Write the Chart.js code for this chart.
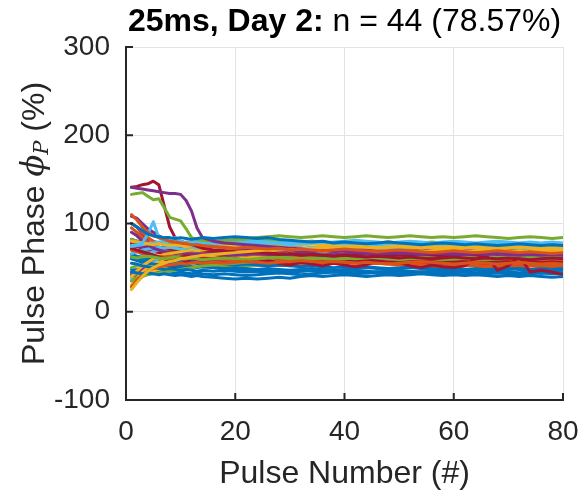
<!DOCTYPE html>
<html>
<head>
<meta charset="utf-8">
<script src="https://cdn.jsdelivr.net/npm/chart.js@4.4.0/dist/chart.umd.min.js"></script>
<style>
  html, body { margin: 0; padding: 0; background: #ffffff; }
  #wrap { width: 582px; height: 493px; }
</style>
</head>
<body>
<div id="wrap"><canvas id="chart" width="582" height="493"></canvas></div>
<script>
// Pulse index for every sample (dense at the start, every 2nd pulse afterwards)
const pulseNumbers = [1,2,3,4,5,6,7,8,9,10,11,12,13,14,16,18,20,22,24,26,28,30,32,34,36,38,40,42,44,46,48,50,52,54,56,58,60,62,64,66,68,70,72,74,76,78,80];

// Pulse phase (%) of each of the 44 recorded cells
const trace01 = [100,96,92,88,86,85,84,84,83,84,83,82,83,84, 83,84,85,84,83,84,82,81,80,79,80,78,79,78,77,78,79,78,77,76,77,78,77,76,77,76,75,76,77,76,75,76,75];
const trace02 = [110,104,96,90,86,84,82,80,79,78,77,76,76,75, 74,73,72,73,72,71,72,70,71,70,69,70,71,70,69,68,69,70,69,68,67,68,69,68,67,68,69,68,67,68,67,66,67];
const trace03 = [25,33,40,46,50,53,55,57,58,60,61,62,63,64, 65,66,67,68,69,70,71,70,71,72,73,72,73,74,73,72,73,74,73,72,73,72,71,72,73,72,71,72,73,72,71,72,71];
const trace04 = [141,140,139,138,137,136,135,134,134,133,126,114,95,84, 80,78,77,76,75,74,73,72,72,71,70,71,70,69,70,69,68,67,68,67,66,67,66,65,66,65,66,65,64,65,64,65,64];
const trace05 = [133,134,135,131,127,128,118,107,105,103,94,84,82,81, 80,81,82,83,84,85,86,85,84,85,86,85,84,85,86,85,84,85,86,85,84,85,84,85,86,85,84,83,84,85,84,83,84];
const trace06 = [75,76,78,88,102,84,80,82,84,80,78,77,78,77, 77,78,77,76,77,78,77,76,77,78,79,78,77,78,77,76,77,78,77,76,77,78,77,76,77,78,77,76,77,76,77,76,75];
const trace07 = [141,142,144,145,148,144,120,96,84,80,78,76,74,72, 70,69,68,67,68,66,65,66,64,65,64,63,64,63,62,63,62,61,62,61,60,61,62,61,60,61,60,61,60,59,60,61,60];
const trace08 = [45,44,43,44,43,42,43,42,41,42,41,40,41,40, 39,38,37,38,37,38,39,38,40,41,40,41,42,41,40,41,42,41,42,43,42,41,42,41,42,41,40,41,40,41,40,39,40];
const trace09 = [28,36,42,46,49,51,52,53,54,55,54,55,56,55, 56,55,56,57,56,55,56,57,58,57,56,57,56,55,56,55,54,55,56,57,56,55,54,55,56,55,54,55,56,55,54,55,54];
const trace10 = [80,79,78,77,76,77,76,75,76,75,74,75,76,75, 76,75,74,75,76,75,74,75,76,77,76,75,76,75,74,75,76,75,74,75,74,73,74,75,74,73,74,75,74,73,74,73,74];
const trace11 = [108,106,100,94,90,86,83,80,78,77,76,75,76,75, 74,73,72,71,72,71,70,69,70,69,70,68,69,68,67,68,67,66,67,66,67,66,65,66,67,66,65,66,65,66,65,66,65];
const trace12 = [62,61,62,63,62,61,60,61,62,61,60,61,60,59, 60,61,60,59,60,61,62,61,60,61,60,59,60,61,62,61,60,59,60,61,60,59,60,61,60,59,60,61,62,61,60,61,60];
const trace13 = [74,75,76,77,78,79,78,79,80,79,78,79,80,79, 80,79,78,79,80,79,78,79,80,79,78,79,80,81,80,79,78,79,80,79,78,79,80,79,78,79,80,79,78,79,78,79,78];
const trace14 = [72,70,68,66,64,62,60,58,60,62,63,62,61,60, 60,62,60,58,56,58,55,53,56,54,52,55,53,51,53,58,62,56,52,50,53,51,50,52,60,64,47,52,63,45,47,45,42];
const trace15 = [55,54,52,51,50,49,48,49,48,47,48,47,46,47, 46,47,46,45,46,47,46,45,46,47,48,47,46,47,46,45,46,47,46,45,46,47,46,45,44,45,46,45,44,45,44,45,44];
const trace16 = [70,68,66,65,64,63,62,63,62,61,62,61,60,61, 60,59,58,59,58,57,58,57,56,57,56,55,56,55,54,55,54,53,54,53,52,51,52,53,52,51,52,53,54,53,52,53,52];
const trace17 = [40,46,52,56,60,63,65,66,67,68,69,70,69,70, 71,70,69,70,71,70,69,70,71,70,69,68,69,70,69,68,69,70,69,68,69,70,69,68,69,70,69,68,69,68,69,68,69];
const trace18 = [90,86,80,76,72,70,68,67,66,67,66,65,66,65, 66,65,64,65,66,65,64,65,66,65,64,65,66,67,66,65,66,67,66,65,66,67,66,65,66,67,66,65,66,67,66,65,66];
const trace19 = [35,38,40,42,43,44,45,46,47,48,49,50,51,52, 53,54,55,56,57,58,59,60,59,60,61,60,61,60,61,62,61,60,61,62,61,60,61,62,61,62,63,62,61,62,63,62,63];
const trace20 = [66,68,70,71,72,73,72,73,72,71,72,73,72,73, 72,73,74,73,72,73,74,73,72,73,74,75,74,73,74,75,74,73,74,75,74,73,74,73,72,73,74,73,72,73,72,73,72];
const trace21 = [78,77,76,75,74,73,72,71,70,71,70,69,70,69, 68,67,68,67,66,67,66,65,66,65,64,65,64,65,64,63,64,65,64,63,64,63,62,63,64,63,62,63,64,63,62,63,62];
const trace22 = [60,58,56,55,54,53,52,53,52,51,52,51,50,51, 50,49,50,49,48,49,48,47,48,49,48,47,48,49,50,49,48,49,50,49,48,49,48,47,48,47,48,49,48,47,48,47,48];
const trace23 = [95,90,84,78,74,71,69,68,67,66,67,66,65,66, 65,64,65,66,65,64,65,64,63,64,63,62,63,62,63,62,61,62,61,60,61,60,61,60,59,60,61,60,59,60,59,60,59];
const trace24 = [30,38,45,50,54,56,58,59,60,61,60,61,62,61, 62,63,62,61,62,63,64,63,62,63,64,65,64,63,64,65,66,65,64,65,66,67,66,65,66,67,66,65,66,67,66,65,66];
const trace25 = [75,74,73,74,73,72,73,72,71,72,71,70,71,70, 71,70,69,70,69,68,69,70,69,68,69,68,67,68,69,68,67,68,69,70,69,68,69,70,69,68,69,70,69,68,69,68,69];
const trace26 = [82,80,79,78,77,78,77,76,77,76,75,76,77,76, 77,78,79,80,81,82,81,80,79,80,79,78,79,78,77,78,79,78,77,78,79,78,77,78,77,76,77,78,77,76,77,76,77];
const trace27 = [38,36,40,48,55,60,63,65,66,67,68,67,68,67, 68,69,68,67,68,69,70,69,68,69,70,71,70,69,70,71,70,69,70,71,70,69,70,71,70,69,70,71,70,69,70,69,70];
const trace28 = [70,69,68,66,64,60,56,51,50,53,57,60,62,63, 62,61,60,61,60,59,60,59,58,59,58,57,58,57,58,57,56,57,56,57,56,55,56,55,56,55,54,55,54,55,54,55,54];
const trace29 = [65,63,61,60,59,58,57,56,57,56,55,56,55,54, 55,54,53,54,53,52,53,52,51,52,51,50,51,50,51,50,49,50,51,50,49,50,49,48,49,50,49,48,49,48,49,48,49];
const trace30 = [35,40,44,48,52,55,57,58,59,60,59,60,61,60, 61,60,59,60,61,60,59,58,59,60,59,58,57,58,57,56,57,56,55,56,55,54,55,54,53,52,51,52,51,52,53,52,53];
const trace31 = [28,34,40,44,46,48,49,50,51,50,51,52,51,52, 53,54,55,56,57,58,57,58,59,60,61,62,63,64,65,66,67,68,69,70,71,72,71,72,71,72,71,72,73,72,73,72,73];
const trace32 = [42,45,48,50,52,54,55,56,57,58,57,58,59,58, 59,58,59,60,59,58,59,60,61,60,61,62,61,60,61,62,63,62,63,64,63,64,63,64,65,64,63,64,65,64,63,64,63];
const trace33 = [50,52,54,56,58,59,60,61,62,63,62,63,64,63, 64,63,64,65,64,63,64,65,66,65,64,65,66,65,64,65,66,65,64,63,62,61,62,61,60,61,62,61,60,61,62,61,62];
const trace34 = [60,62,64,66,68,70,72,73,74,75,76,75,76,77, 76,77,78,77,76,77,78,77,76,77,78,77,76,75,76,77,78,77,76,75,76,77,76,75,76,75,76,77,76,75,76,75,76];
const trace35 = [76,74,72,70,68,67,66,65,64,65,64,63,62,63, 62,63,64,63,62,61,62,61,60,61,60,59,60,59,58,59,58,57,58,57,58,57,56,57,58,57,56,57,58,57,56,57,56];
const trace36 = [48,47,46,47,46,45,46,45,44,45,44,43,44,43, 42,43,42,41,42,43,44,43,42,43,44,45,44,43,44,45,44,43,44,45,44,43,44,45,44,43,44,43,42,43,44,43,44];
const trace37 = [100,96,90,84,80,78,76,75,74,75,74,73,74,73, 72,73,72,71,72,73,72,71,72,71,70,71,72,71,70,71,70,69,70,71,70,69,70,69,68,69,70,69,68,69,68,69,68];
const trace38 = [72,74,75,76,77,78,77,78,79,78,79,80,79,80, 79,80,79,78,79,80,81,80,79,80,79,78,79,80,79,78,79,78,77,78,77,76,77,78,77,76,77,76,75,76,75,76,75];
const trace39 = [100,96,88,80,74,70,66,63,61,60,59,58,57,58, 57,56,57,56,55,56,57,56,57,58,59,60,61,62,63,64,63,64,65,66,65,64,65,66,65,64,65,66,65,64,65,64,65];
const trace40 = [40,42,44,46,47,48,49,50,51,50,51,52,51,52, 51,52,53,52,53,54,55,56,57,58,57,58,59,58,59,58,57,58,59,58,57,58,59,58,57,58,59,58,57,58,57,58,57];
const trace41 = [80,78,76,74,72,71,70,69,70,69,68,69,68,67, 68,67,66,67,66,65,66,65,64,65,66,67,68,69,70,71,72,73,72,73,74,73,72,73,74,73,74,75,74,73,74,73,74];
const trace42 = [82,80,78,76,74,73,72,71,70,69,68,69,68,67, 66,65,66,65,64,65,64,63,64,63,62,61,62,61,60,61,62,63,62,61,62,61,62,63,64,63,64,65,64,63,64,63,64];
const trace43 = [62,60,58,57,56,55,54,53,54,53,52,51,52,51, 50,49,48,47,46,45,46,45,46,47,46,45,46,45,44,45,44,43,44,45,44,45,46,45,44,45,46,45,44,45,46,45,44];
const trace44 = [45,48,50,52,53,54,55,56,55,56,57,56,55,56, 55,54,53,54,53,52,53,52,53,54,55,56,57,56,57,56,55,54,53,52,51,50,51,52,53,52,51,50,51,52,51,50,51];

const traces = [trace01,trace02,trace03,trace04,trace05,trace06,trace07,trace08,trace09,trace10,
                trace11,trace12,trace13,trace14,trace15,trace16,trace17,trace18,trace19,trace20,
                trace21,trace22,trace23,trace24,trace25,trace26,trace27,trace28,trace29,trace30,
                trace31,trace32,trace33,trace34,trace35,trace36,trace37,trace38,trace39,trace40,
                trace41,trace42,trace43,trace44];

// Axis ticks
const xTickValues = [0, 20, 40, 60, 80];
const yTickValues = [-100, 0, 100, 200, 300];

// Title pieces
const titleBold = '25ms, Day 2:';
const titleRest = ' n = 44 (78.57%)';

// Line colour cycle
const lineColors = ['#0072BD', '#D95319', '#EDB120', '#7E2F8E', '#77AC30', '#4DBEEE', '#A2142F'];

const FONT = '"Liberation Sans", Arial, Helvetica, sans-serif';
const INK = '#262626';

const datasets = traces.map((values, i) => ({
  data: values.map((v, k) => ({ x: pulseNumbers[k], y: v })),
  borderColor: lineColors[i % lineColors.length],
  borderWidth: 3,
  pointRadius: 0,
  tension: 0,
  fill: false,
  borderJoinStyle: 'round',
  borderCapStyle: 'round'
}));

// Axis lines, inward ticks, the two-part title and the y label with italic phi
const decorations = {
  id: 'decorations',
  afterDatasetsDraw(chart) {
    const { ctx, chartArea: a, scales: { x, y } } = chart;
    ctx.save();
    ctx.strokeStyle = INK;
    ctx.lineWidth = 2;
    ctx.lineCap = 'square';
    ctx.beginPath();
    ctx.moveTo(a.left, a.top);
    ctx.lineTo(a.left, a.bottom);
    ctx.lineTo(a.right, a.bottom);
    xTickValues.forEach(v => {
      const px = x.getPixelForValue(v);
      ctx.moveTo(px, a.bottom);
      ctx.lineTo(px, a.bottom - 6);
    });
    yTickValues.forEach(v => {
      const py = y.getPixelForValue(v);
      ctx.moveTo(a.left, py);
      ctx.lineTo(a.left + 6, py);
    });
    ctx.stroke();
    ctx.restore();
  },
  afterDraw(chart) {
    const { ctx, chartArea: a } = chart;
    ctx.save();
    // Title
    ctx.fillStyle = '#000000';
    ctx.textBaseline = 'middle';
    const boldFont = 'bold 32px ' + FONT;
    const normFont = '32px ' + FONT;
    ctx.font = boldFont;
    const wb = ctx.measureText(titleBold).width;
    ctx.font = normFont;
    const wn = ctx.measureText(titleRest).width;
    let tx = (a.left + a.right) / 2 - (wb + wn) / 2;
    ctx.textAlign = 'left';
    ctx.font = boldFont;
    ctx.fillText(titleBold, tx, 22);
    ctx.font = normFont;
    ctx.fillText(titleRest, tx + wb, 22);

    // Y axis label
    ctx.fillStyle = INK;
    const parts = [
      { t: 'Pulse Phase ', f: '32px ' + FONT, dy: 0 },
      { t: '\u03D5', f: 'italic 32px "DejaVu Serif", serif', dy: 0 },
      { t: 'P', f: 'italic 21px "DejaVu Serif", serif', dy: 8 },
      { t: ' (%)', f: '32px ' + FONT, dy: 0 }
    ];
    let total = 0;
    parts.forEach(p => { ctx.font = p.f; p.w = ctx.measureText(p.t).width; total += p.w; });
    ctx.translate(35, (a.top + a.bottom) / 2);
    ctx.rotate(-Math.PI / 2);
    let px = -total / 2;
    parts.forEach(p => {
      ctx.font = p.f;
      ctx.fillText(p.t, px, p.dy);
      px += p.w;
    });
    ctx.restore();
  }
};

new Chart(document.getElementById('chart'), {
  type: 'line',
  data: { datasets },
  options: {
    responsive: false,
    animation: false,
    devicePixelRatio: 1,
    layout: { padding: { left: 0, right: 19, top: 47, bottom: 0 } },
    plugins: { legend: { display: false }, tooltip: { enabled: false }, title: { display: false } },
    scales: {
      x: {
        type: 'linear',
        min: 0, max: 80,
        afterBuildTicks: s => { s.ticks = xTickValues.map(v => ({ value: v })); },
        afterFit: s => { s.height = 93; s.paddingLeft = 0; s.paddingRight = 0; },
        border: { display: false },
        grid: { color: '#e3e3e3', lineWidth: 1, drawTicks: false },
        ticks: { color: INK, font: { family: FONT, size: 28 }, padding: 15, maxRotation: 0 },
        title: { display: true, text: 'Pulse Number (#)', color: INK, font: { family: FONT, size: 32 }, padding: { top: 0, bottom: 0 } }
      },
      y: {
        type: 'linear',
        min: -100, max: 300,
        afterBuildTicks: s => { s.ticks = yTickValues.map(v => ({ value: v })); },
        afterFit: s => { s.width = 126; s.paddingTop = 0; s.paddingBottom = 0; },
        border: { display: false },
        grid: { color: '#e3e3e3', lineWidth: 1, drawTicks: false },
        ticks: { color: INK, font: { family: FONT, size: 28 }, padding: 16 }
      }
    }
  },
  plugins: [decorations]
});
</script>
</body>
</html>
